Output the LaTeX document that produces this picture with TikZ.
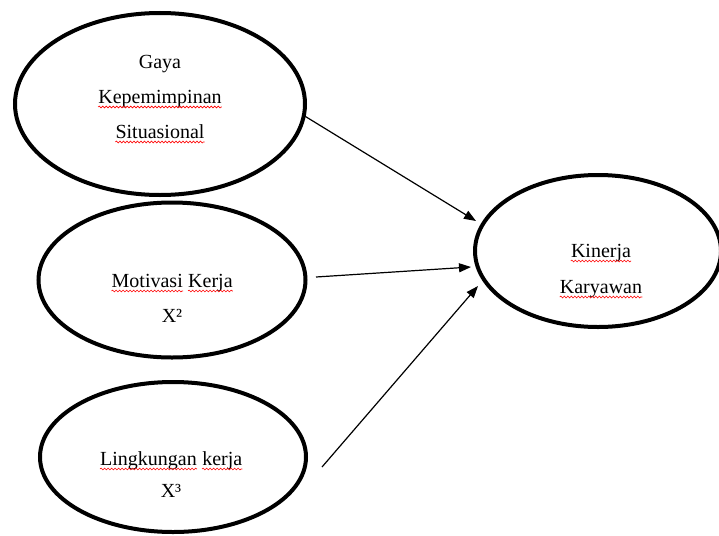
\documentclass[tikz,border=0pt]{standalone}
\usepackage{fontspec}
\setmainfont{Liberation Serif}
\usetikzlibrary{shapes.geometric,arrows.meta,decorations.pathmorphing}
\begin{document}
\begin{tikzpicture}[x=1pt,y=-1pt,
  oval/.style={draw,ellipse,line width=4pt,inner sep=0pt,outer sep=0pt},
  txt/.style={anchor=base,inner sep=0pt,font=\fontsize{20}{24}\selectfont},
  txtw/.style={txt,anchor=base west},
  arr/.style={line width=1.2pt,-{Triangle[length=12pt,width=9pt]}},
  wave/.style={draw=red,line width=0.6pt,decorate,decoration={snake,segment length=3.5pt,amplitude=0.9pt}}]
\useasboundingbox (0,0) rectangle (719,535);
% ovals
\node[oval,minimum width=290pt,minimum height=182pt] (e1) at (160,104) {};
\node[oval,minimum width=267pt,minimum height=155pt] (e2) at (172,280) {};
\node[oval,minimum width=266pt,minimum height=150pt] (e3) at (173,457) {};
\node[oval,minimum width=246pt,minimum height=152pt] (e4) at (598,251) {};
% texts
\node[txt] (t1a) at (160,68) {Gaya};
\node[txt] (t1b) at (160,103) {Kepemimpinan};
\node[txt] (t1c) at (160,138) {Situasional};
\node[txtw] (t2a) at (111.5,287) {Motivasi};
\node[txtw] (t2b) at ([xshift=5pt]t2a.base east) {Kerja};
\node[txt] (t2c) at (172,322) {X²};
\node[txtw] (t3a) at (100,465) {Lingkungan};
\node[txtw] (t3b) at ([xshift=5pt]t3a.base east) {kerja};
\node[txt] (t3c) at (171,497) {X³};
\node[txt] (t4a) at (601,257) {Kinerja};
\node[txt] (t4b) at (601,293) {Karyawan};
% spelling waves
\foreach \w in {t1b,t1c,t2a,t2b,t3a,t3b,t4a,t4b}
  \draw[wave] ([yshift=-4pt]\w.base west) -- ([yshift=-4pt]\w.base east);
% connector ends
\coordinate (s1) at (303,115);
\coordinate (h1) at (476,221);
\coordinate (s2) at (316,277);
\coordinate (h2) at (471,267);
\coordinate (s3) at (322,467);
\coordinate (h3) at (478,286);
\draw[arr] (s1) -- (h1);
\draw[arr] (s2) -- (h2);
\draw[arr] (s3) -- (h3);
\end{tikzpicture}
\end{document}
